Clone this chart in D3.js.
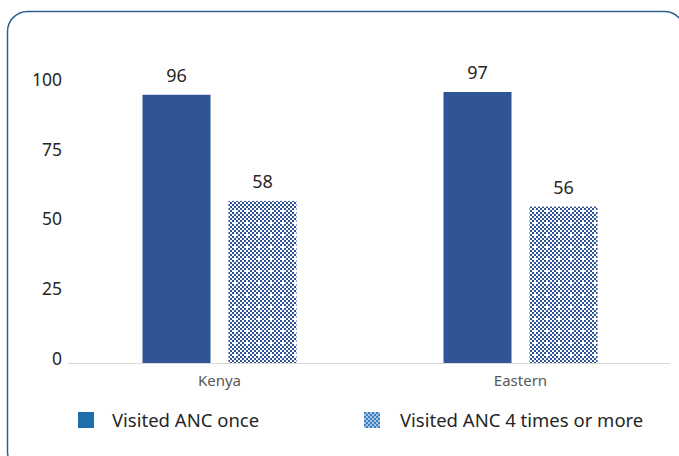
<!DOCTYPE html>
<html><head><meta charset="utf-8">
<script src="https://d3js.org/d3.v7.min.js"></script>
<style>body{margin:0;background:#fff}svg{display:block}</style>
</head><body>
<script>
const categories = ["Kenya", "Eastern"];
const seriesNames = ["Visited ANC once", "Visited ANC 4 times or more"];
const onceValues = [96, 97];
const fourPlusValues = [58, 56];
const yTicks = [0, 25, 50, 75, 100];

const W = 679, H = 456;
const svg = d3.select("body").append("svg").attr("width", W).attr("height", H);
const font = "'Noto Sans', 'Open Sans', sans-serif";

const defs = svg.append("defs");
const pat = defs.append("pattern").attr("id", "chk").attr("patternUnits", "userSpaceOnUse")
  .attr("width", 12).attr("height", 12);
pat.append("rect").attr("width", 12).attr("height", 12).attr("fill", "#fff");
for (let i = 0; i < 6; i++) for (let j = 0; j < 6; j++) {
  if ((i + j) % 2 === 0 && !(i === 3 && j === 3)) {
    pat.append("rect").attr("x", i*2).attr("y", j*2).attr("width", 2).attr("height", 2).attr("fill", "#2f5597");
  }
}
const pat2 = defs.append("pattern").attr("id", "chkL").attr("patternUnits", "userSpaceOnUse")
  .attr("width", 4).attr("height", 4);
pat2.append("rect").attr("width", 4).attr("height", 4).attr("fill", "#a9c4e4");
pat2.append("rect").attr("width", 2).attr("height", 2).attr("fill", "#3e7fc0");
pat2.append("rect").attr("x", 2).attr("y", 2).attr("width", 2).attr("height", 2).attr("fill", "#3e7fc0");

// frame
svg.append("rect").attr("x", 7.5).attr("y", 11.5).attr("width", 677).attr("height", 460)
  .attr("rx", 20).attr("fill", "none").attr("stroke", "#2f5f8f").attr("stroke-width", 1.5);

const x0 = d3.scaleBand().domain(categories).range([69, 671]);
const y = d3.scaleLinear().domain([0, 100]).range([363, 83.6]);
const barW = 68, gap = 18;

// y axis labels
const yAxis = d3.axisLeft(y).tickValues(yTicks).tickSize(0).tickPadding(0);
const ya = svg.append("g").attr("transform", "translate(62,-4)").call(yAxis);
ya.select(".domain").remove();
ya.selectAll("text").attr("font-family", font).attr("font-size", 17.5).attr("fill", "#262626");

// baseline
svg.append("line").attr("x1", 68).attr("x2", 670).attr("y1", y(0)+0.5).attr("y2", y(0)+0.5)
  .attr("stroke", "#d9d9d9").attr("stroke-width", 1);

const groups = categories.map((c, i) => ({c, vals: [onceValues[i], fourPlusValues[i]]}));
groups.forEach(g => {
  const cx = x0(g.c) + x0.bandwidth()/2;
  g.vals.forEach((v, k) => {
    const bx = k === 0 ? cx - gap/2 - barW : cx + gap/2;
    svg.append("rect").attr("x", bx).attr("y", y(v)).attr("width", barW).attr("height", y(0) - y(v))
      .attr("fill", k === 0 ? "#2f5597" : "url(#chk)");
    svg.append("text").attr("x", bx + barW/2).attr("y", y(v) - 13).attr("text-anchor", "middle")
      .attr("font-family", font).attr("font-size", 18).attr("fill", "#262626").text(v);
  });
});

// x axis labels
const xAxis = d3.axisBottom(x0).tickSize(0).tickPadding(0);
const xa = svg.append("g").attr("transform", "translate(0,375)").call(xAxis);
xa.select(".domain").remove();
xa.selectAll("text").attr("font-family", font).attr("font-size", 15).attr("fill", "#595959");

// legend
const leg = [{x: 78, fill: "#1f6fad", t: seriesNames[0], tx: 112}, {x: 364, fill: "url(#chkL)", t: seriesNames[1], tx: 400}];
leg.forEach(l => {
  svg.append("rect").attr("x", l.x).attr("y", 412).attr("width", 16).attr("height", 16).attr("fill", l.fill);
  svg.append("text").attr("x", l.tx).attr("y", 426.5).attr("font-family", font).attr("font-size", 18.5)
    .attr("fill", "#262626").text(l.t);
});
</script>
</body></html>
